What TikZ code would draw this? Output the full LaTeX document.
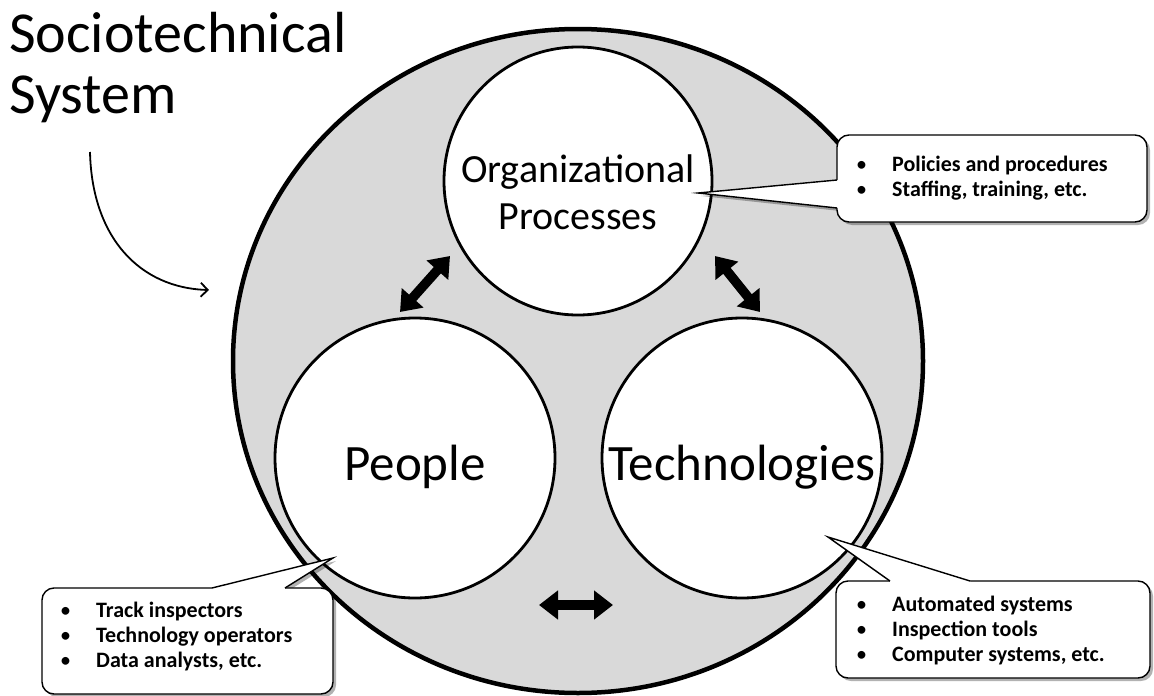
\documentclass[tikz,border=0pt]{standalone}
\usepackage{fontspec}
\setmainfont{Carlito}
\usetikzlibrary{shapes.geometric,arrows.meta,shadows,calc}
\definecolor{sysgray}{HTML}{D9D9D9}
\tikzset{
  subsys/.style={circle, draw=black, fill=white, line width=2.8pt, inner sep=0pt, minimum size=#1},
  subsys/.default=280pt,
  bigtext/.style={font=\fontsize{51}{56}\selectfont, inner sep=0pt, align=center},
  orgtext/.style={font=\fontsize{40}{47}\selectfont, inner sep=0pt, align=center},
  blockarrow/.style={line width=9.5pt, {Triangle[length=19pt,width=28pt]}-{Triangle[length=19pt,width=28pt]}},
  cshadow/.style={drop shadow={shadow xshift=3pt, shadow yshift=-3pt, opacity=0.3, fill=black}},
  calloutbox/.style={draw=black, line width=1.4pt, fill=white, rounded corners=12pt, cshadow},
  wedgeline/.style={draw=black, line width=1.4pt, line join=miter},
  bullettext/.style={font=\bfseries\fontsize{22}{#1}\selectfont, align=left, inner sep=0pt, anchor=west},
  titletext/.style={font=\fontsize{58}{60}\selectfont, inner sep=0pt, anchor=base west},
}
\newcommand{\bul}{\makebox[36pt][l]{\mdseries\textbullet}}
\begin{document}
\begin{tikzpicture}[x=1pt, y=-1pt]
\useasboundingbox (0,0) rectangle (1154,696);
% system
\node[ellipse, draw=black, fill=sysgray, line width=4.5pt, minimum width=690pt, minimum height=664pt, inner sep=0pt] (sys) at (578,361) {};
% subsystems
\node[subsys=268pt] (org) at (578,181) {};
\node[orgtext] (orglabel) at (578,192) {Organizational\\Processes};
\node[subsys] (people) at (415,458) {};
\node[bigtext] (peoplelabel) at (415,467) {People};
\node[subsys] (tech) at (742,458) {};
\node[bigtext] (techlabel) at (742,467) {Technologies};
% block arrows
\coordinate (la1) at (450,256);
\coordinate (la2) at (400,312);
\coordinate (ra1) at (715,256);
\coordinate (ra2) at (760,312);
\coordinate (ba1) at (539,605);
\coordinate (ba2) at (613,605);
\draw[blockarrow] (la1) -- (la2);
\draw[blockarrow] (ra1) -- (ra2);
\draw[blockarrow] (ba1) -- (ba2);
% title
\node[titletext] (title1) at (9,52) {Sociotechnical};
\node[titletext] (title2) at (9,113) {System};
\coordinate (cs) at (90,152);
\coordinate (ce) at (209,290);
\draw[line width=1.8pt, -{Straight Barb[length=7pt,width=14pt]}] (cs) .. controls (92,238) and (140,288) .. (ce);
% callout: organizational
\coordinate (ot) at (698,193);
\coordinate (ob1) at (837,180);
\coordinate (ob2) at (837,208);
\fill[white, cshadow] (ot) -- (ob1) -- (ob2) -- cycle;
\path[calloutbox] (837,135) rectangle (1147,222);
\fill[white] (ot) -- (ob1) -- ($(ob1)+(3,0)$) -- ($(ob2)+(3,0)$) -- (ob2) -- cycle;
\draw[wedgeline] (ob1) -- (ot) -- (ob2);
\node[bullettext=25] (orgitems) at (856,178) {\bul Policies and procedures\\\bul Staffing, training, etc.};
% callout: people
\coordinate (pt) at (333,558);
\coordinate (pb1) at (212,588);
\coordinate (pb2) at (285,588);
\fill[white, cshadow] (pt) -- (pb1) -- (pb2) -- cycle;
\path[calloutbox] (42,588) rectangle (333,694);
\fill[white] (pt) -- (pb1) -- ($(pb1)+(0,3)$) -- ($(pb2)+(0,3)$) -- (pb2) -- cycle;
\draw[wedgeline] (pb1) -- (pt) -- (pb2);
\node[bullettext=25] (peopleitems) at (60,637) {\bul Track inspectors\\\bul Technology operators\\\bul Data analysts, etc.};
% callout: technologies
\coordinate (tt) at (828,537);
\coordinate (tb1) at (890,581);
\coordinate (tb2) at (970,581);
\fill[white, cshadow] (tt) -- (tb1) -- (tb2) -- cycle;
\path[calloutbox] (836,581) rectangle (1150,678);
\fill[white] (tt) -- (tb1) -- ($(tb1)+(0,3)$) -- ($(tb2)+(0,3)$) -- (tb2) -- cycle;
\draw[wedgeline] (tb1) -- (tt) -- (tb2);
\node[bullettext=25] (techitems) at (856,631) {\bul Automated systems\\\bul Inspection tools\\\bul Computer systems, etc.};
\end{tikzpicture}
\end{document}
